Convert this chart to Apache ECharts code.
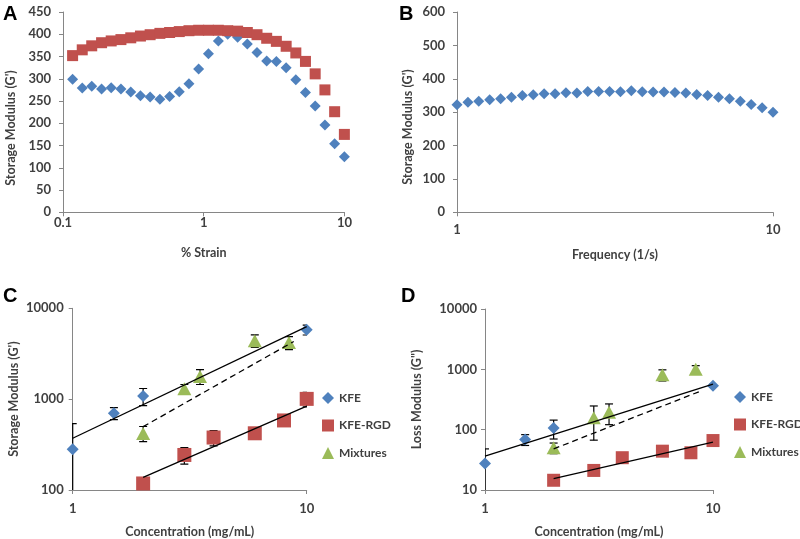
<!DOCTYPE html>
<html><head><meta charset="utf-8">
<script src="https://cdn.jsdelivr.net/npm/echarts@6/dist/echarts.min.js"></script>
<style>html,body{margin:0;padding:0;background:#fff}#c{width:800px;height:539px}</style>
</head><body><div id="c"></div>
<script>
// Panel A: strain sweep
const strain = [0.117,0.137,0.160,0.188,0.220,0.258,0.303,0.355,0.416,0.488,0.572,0.670,0.785,0.920,1.08,1.27,1.48,1.74,2.04,2.39,2.80,3.28,3.85,4.51,5.28,6.19,7.26,8.51,9.98];
const strainBlue = [299,279,283,277,280,277,270,262,259,254,260,271,289,322,356,385,400,393,378,359,340,339,325,298,269,239,196,154,125];
const strainRed = [352,365,374,381,385,388,392,396,399,402,404,406,408,409,409,409,408,407,404,399,391,384,373,358,339,311,275,226,175];
// Panel B: frequency sweep
const freq = [1,1.083,1.172,1.269,1.374,1.487,1.610,1.743,1.887,2.043,2.212,2.395,2.593,2.807,3.039,3.290,3.562,3.857,4.175,4.520,4.894,5.298,5.736,6.210,6.723,7.279,7.880,8.532,9.237,10];
const freqG = [322,330,333,337,340,345,350,352,355,355,358,357,362,362,362,361,364,361,360,360,359,357,353,350,345,340,333,323,313,300];
// Panels C, D: concentration
const concKfe = [1,1.5,2,10];
const concRgd = [2,3,4,6,8,10];
const concMix = [2,3,3.5,6,8.4];
const gpKfe = [281,700,1080,5800];
const gpKfeErr = [257,105,230,720];
const gpRgd = [118,243,378,421,583,1007];
const gpRgdErr = [10,50,72,40,60,183];
const gpMix = [420,1300,1780,4400,4190];
const gpMixErr = [80,150,330,690,690];
const gppKfe = [27.5,68.7,107,535];
const gppKfeErr = [20.5,14,37,30];
const gppRgd = [14.5,21.1,34.3,44,41.4,66];
const gppRgdErr = [1,2,3,4,4,5];
const gppMix = [50,157,194,811,1007];
const gppMixErr = [10,90,73,170,143];
// Trend lines (power-law fits): [x, y] endpoints
const trendGpKfe = [[1,371],[10,6280]];
const trendGpMix = [[2,498],[8.8,4310]];
const trendGpRgd = [[2,138],[10,836]];
const trendGppKfe = [[1,36.4],[10,570]];
const trendGppMix = [[2,48],[8.8,434]];
const trendGppRgd = [[2,15.4],[10,62]];
const legendNames = ['KFE','KFE-RGD','Mixtures'];
const yTitleG1 = "Storage Modulus (G')";
const yTitleG2 = 'Loss Modulus (G")';

const BLUE='#4F81BD', RED='#C0504D', GREEN='#9BBB59';
const FONT='Lato';
const pts=(xs,ys)=>xs.map((x,i)=>[x,ys[i]]);
const errs=(xs,ys,es)=>xs.map((x,i)=>[x,ys[i]-es[i],ys[i]+es[i]]);

function errRender(params, api){
  const x=api.value(0);
  const p0=api.coord([x,api.value(1)]);
  const p1=api.coord([x,api.value(2)]);
  const w=4, st={stroke:'#000',lineWidth:1.2};
  return {type:'group',children:[
    {type:'line',shape:{x1:p0[0],y1:p0[1],x2:p1[0],y2:p1[1]},style:st},
    {type:'line',shape:{x1:p0[0]-w,y1:p0[1],x2:p0[0]+w,y2:p0[1]},style:st},
    {type:'line',shape:{x1:p1[0]-w,y1:p1[1],x2:p1[0]+w,y2:p1[1]},style:st}
  ]};
}
const fmt=(v)=>String(+Number(v).toPrecision(6));
const axLine={lineStyle:{color:'#868686',width:1}};
const axTick={show:true,length:4,lineStyle:{color:'#868686'}};
const lbl=(m)=>({color:'#404040',fontFamily:FONT,fontSize:13,fontWeight:'bold',margin:m,formatter:fmt});
const nameSt={color:'#404040',fontFamily:FONT,fontSize:12.5,fontWeight:'bold'};

function xLog(grid,min,max,name,m,gap){
  return {type:'log',logBase:10,gridIndex:grid,min:min,max:max,name:name,nameLocation:'middle',nameGap:gap,
    nameTextStyle:nameSt,axisLine:axLine,axisTick:axTick,axisLabel:lbl(m),splitLine:{show:false},minorTick:{show:false}};
}
function yAx(grid,type,min,max,interval,name,gap,m){
  const o={type:type,gridIndex:grid,min:min,max:max,name:name,nameLocation:'middle',nameGap:gap,
    nameTextStyle:nameSt,axisLine:{show:true,lineStyle:axLine.lineStyle},axisTick:axTick,axisLabel:lbl(m),splitLine:{show:false}};
  if(type==='log'){o.logBase=10;}else{o.interval=interval;}
  return o;
}
function scat(name,xi,data,symbol,size,color,z){
  return {name:name,type:'scatter',xAxisIndex:xi,yAxisIndex:xi,data:data,symbol:symbol,symbolSize:size,
    itemStyle:{color:color,opacity:1},z:z||3,animation:false};
}
function errS(xi,data){
  return {type:'custom',xAxisIndex:xi,yAxisIndex:xi,data:data,renderItem:errRender,clip:true,z:2,animation:false,silent:true,encode:{x:0,y:[1,2]}};
}
function trend(xi,data,dashed){
  return {type:'line',xAxisIndex:xi,yAxisIndex:xi,data:data,symbol:'none',z:4,animation:false,silent:true,
    lineStyle:{color:'#000',width:1.3,type:dashed?[6,4]:'solid'}};
}
function legend(left,top){
  return {orient:'vertical',left:left,top:top,itemWidth:12,itemHeight:12,itemGap:15.5,padding:0,
    textStyle:{color:'#404040',fontFamily:FONT,fontSize:12,fontWeight:'bold'},
    data:[{name:legendNames[0],icon:'diamond'},{name:legendNames[1],icon:'rect'},{name:legendNames[2],icon:'triangle'}]};
}
function vTitle(text,x,y){
  return {type:'text',x:x,y:y,rotation:Math.PI/2,
    style:{text:text,fill:'#404040',font:'bold 12.5px '+FONT,textAlign:'center',textVerticalAlign:'middle'}};
}

const chart=echarts.init(document.getElementById('c'),null,{renderer:'canvas'});
const letter=(t,l,tp)=>({text:t,left:l,top:tp,padding:0,textStyle:{fontFamily:'Liberation Sans',fontWeight:'bold',fontSize:20,color:'#000'}});
chart.setOption({
  animation:false,
  backgroundColor:'#fff',
  title:[letter('A',3,4),letter('B',399,4),letter('C',3,286),letter('D',401,286)],
  graphic:[vTitle(yTitleG1,11,128),vTitle(yTitleG1,408,127)],
  grid:[
    {left:63,top:12,width:281.5,height:200.3},
    {left:457,top:12,width:316,height:200.3},
    {left:72.7,top:308.3,width:234,height:182.7},
    {left:485,top:309,width:228,height:181.7}
  ],
  xAxis:[
    xLog(0,0.1,10,'% Strain',4,34),
    xLog(1,1,10,'Frequency (1/s)',11,36),
    xLog(2,1,10,'Concentration (mg/mL)',12,35),
    xLog(3,1,10,'Concentration (mg/mL)',12,35)
  ],
  yAxis:[
    yAx(0,'value',0,450,50,'',46,12),
    yAx(1,'value',0,600,100,'',42,12),
    yAx(2,'log',100,10000,null,yTitleG1,52,9),
    yAx(3,'log',10,10000,null,yTitleG2,62,8)
  ],
  legend:[legend(322,392),legend(734,391)],
  series:[
    scat('strainBlue',0,pts(strain,strainBlue),'diamond',11,BLUE,3),
    scat('strainRed',0,pts(strain,strainRed),'rect',11,RED,4),
    scat('freq',1,pts(freq,freqG),'diamond',11,BLUE),
    errS(2,errs(concKfe,gpKfe,gpKfeErr)),
    errS(2,errs(concRgd,gpRgd,gpRgdErr)),
    errS(2,errs(concMix,gpMix,gpMixErr)),
    scat('KFE',2,pts(concKfe,gpKfe),'diamond',12,BLUE),
    scat('KFE-RGD',2,pts(concRgd,gpRgd),'rect',14,RED),
    scat('Mixtures',2,pts(concMix,gpMix),'triangle',[14,13],GREEN),
    trend(2,trendGpKfe,false),
    trend(2,trendGpMix,true),
    trend(2,trendGpRgd,false),
    errS(3,errs(concKfe,gppKfe,gppKfeErr)),
    errS(3,errs(concRgd,gppRgd,gppRgdErr)),
    errS(3,errs(concMix,gppMix,gppMixErr)),
    scat('KFE',3,pts(concKfe,gppKfe),'diamond',12,BLUE),
    scat('KFE-RGD',3,pts(concRgd,gppRgd),'rect',13,RED),
    scat('Mixtures',3,pts(concMix,gppMix),'triangle',[14,13],GREEN),
    trend(3,trendGppKfe,false),
    trend(3,trendGppMix,true),
    trend(3,trendGppRgd,false)
  ]
});
</script></body></html>
